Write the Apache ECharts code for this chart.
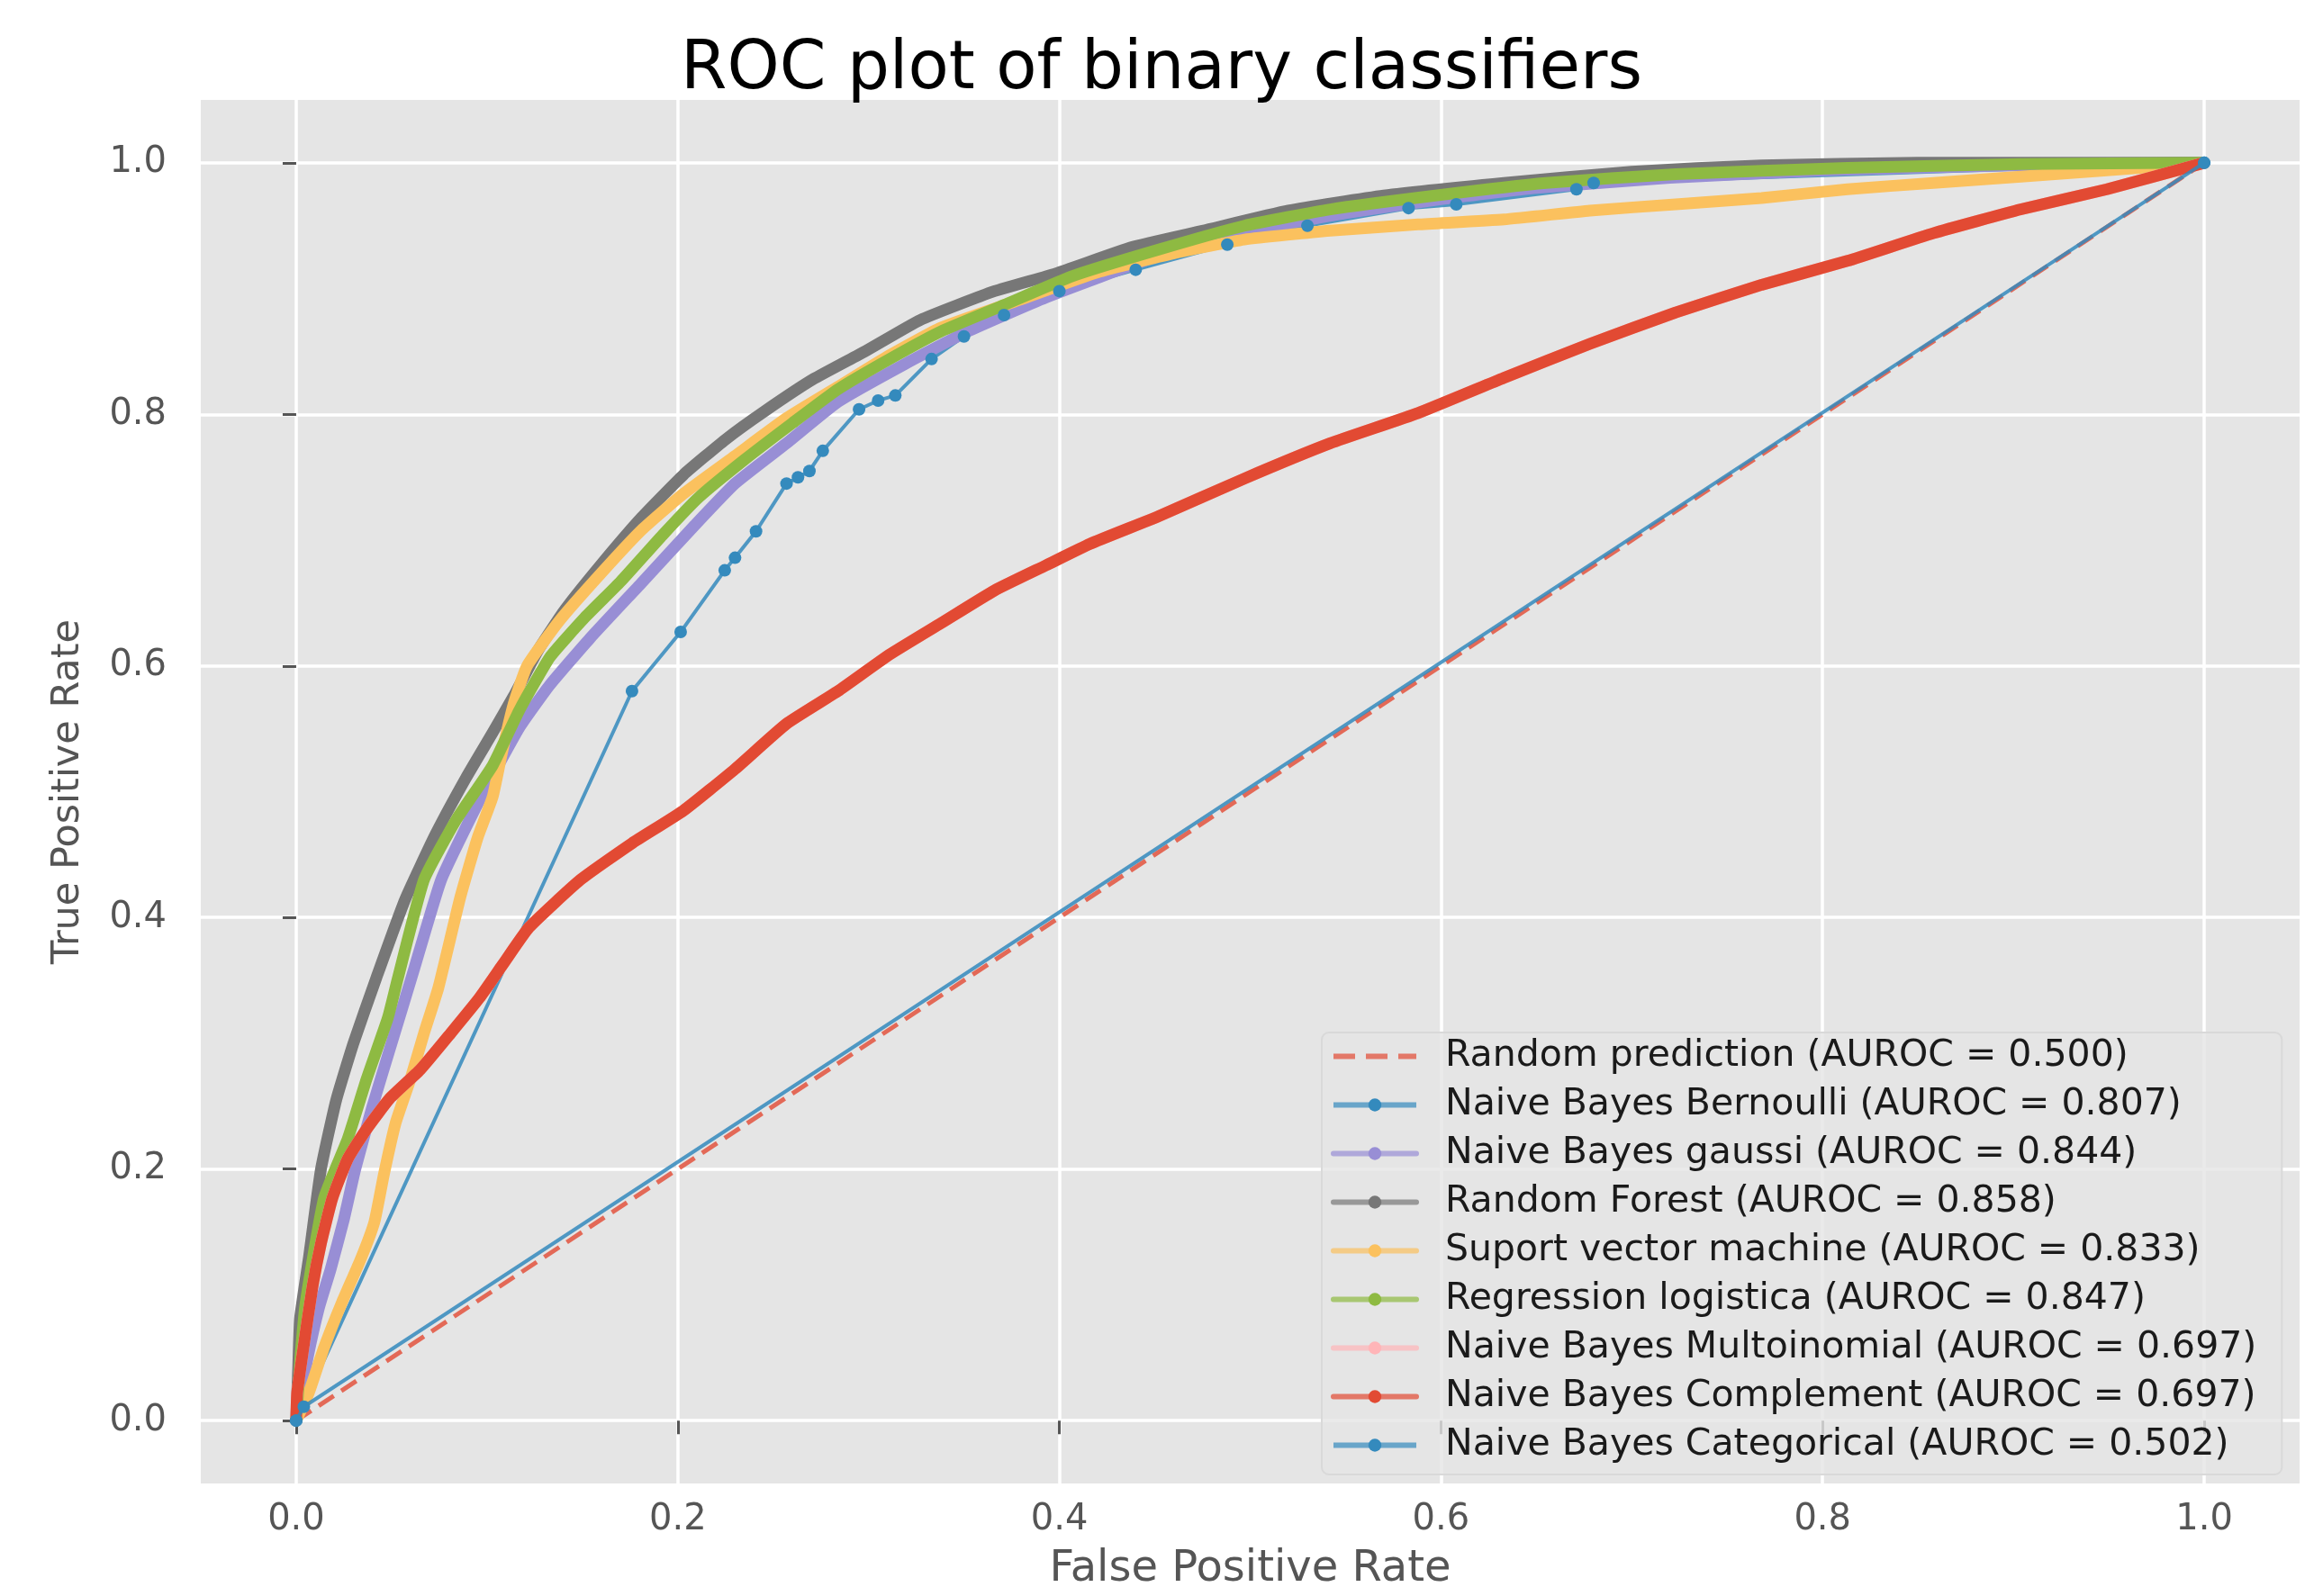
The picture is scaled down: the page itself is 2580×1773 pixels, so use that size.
<!DOCTYPE html>
<html>
<head>
<meta charset="utf-8">
<title>ROC plot of binary classifiers</title>
<script src="https://cdn.jsdelivr.net/npm/echarts@6.0.0/dist/echarts.min.js"></script>
<style>
  html, body { margin: 0; padding: 0; background: #fff; }
  #chart { width: 2580px; height: 1773px; }
</style>
</head>
<body>
<div id="chart"></div>
<script>
// ticks on both axes
const tickValues = [0, 0.2, 0.4, 0.6, 0.8, 1.0]

// legend labels
const modelNames = [
  'Random prediction',
  'Naive Bayes Bernoulli',
  'Naive Bayes gaussi',
  'Random Forest',
  'Suport vector machine',
  'Regression logistica',
  'Naive Bayes Multoinomial',
  'Naive Bayes Complement',
  'Naive Bayes Categorical'
]
const aurocValues = [0.500, 0.807, 0.844, 0.858, 0.833, 0.847, 0.697, 0.697, 0.502]

// ROC points, [false positive rate, true positive rate]
const randomPrediction = [[0, 0], [1, 1]]

const nbBernoulli = [
  [0, 0], [0.176, 0.580], [0.2015, 0.627], [0.2246, 0.676], [0.230, 0.686], [0.241, 0.707],
  [0.257, 0.745], [0.263, 0.750], [0.269, 0.755], [0.276, 0.771], [0.295, 0.804], [0.305, 0.811],
  [0.314, 0.815], [0.333, 0.844], [0.350, 0.862], [0.371, 0.879], [0.400, 0.898], [0.440, 0.915],
  [0.488, 0.935], [0.530, 0.950], [0.583, 0.964], [0.608, 0.967], [0.671, 0.979], [0.680, 0.984],
  [1, 1]
]

const nbGaussian = [
  [0, 0], [0.006, 0.05], [0.012, 0.09], [0.018, 0.12], [0.025, 0.16], [0.031, 0.20], [0.040, 0.25],
  [0.050, 0.30], [0.062, 0.36], [0.076, 0.43], [0.095, 0.49], [0.117, 0.551], [0.133, 0.585],
  [0.154, 0.622], [0.181, 0.666], [0.209, 0.712], [0.230, 0.745], [0.257, 0.777], [0.284, 0.810],
  [0.319, 0.840], [0.352, 0.866], [0.393, 0.893], [0.450, 0.925], [0.500, 0.946], [0.550, 0.960],
  [0.600, 0.971], [0.650, 0.980], [0.720, 0.988], [0.800, 0.994], [0.900, 0.998], [1, 1]
]

const randomForest = [
  [0, 0], [0.001, 0.04], [0.002, 0.081], [0.0066, 0.129], [0.013, 0.20], [0.021, 0.255], [0.030, 0.300],
  [0.042, 0.352], [0.057, 0.414], [0.073, 0.466], [0.089, 0.511], [0.103, 0.547], [0.114, 0.576],
  [0.127, 0.613], [0.141, 0.645], [0.160, 0.681], [0.181, 0.718], [0.203, 0.752], [0.225, 0.780],
  [0.246, 0.803], [0.271, 0.828], [0.298, 0.850], [0.327, 0.875], [0.366, 0.898], [0.398, 0.912],
  [0.438, 0.933], [0.475, 0.946], [0.520, 0.962], [0.570, 0.974], [0.633, 0.984], [0.700, 0.993],
  [0.768, 0.998], [0.850, 1.0], [1, 1]
]

const svm = [
  [0, 0], [0.0066, 0.022], [0.0146, 0.058], [0.024, 0.094], [0.034, 0.129], [0.041, 0.158],
  [0.046, 0.196], [0.052, 0.236], [0.060, 0.272], [0.067, 0.308], [0.0745, 0.344], [0.086, 0.416],
  [0.095, 0.463], [0.103, 0.496], [0.108, 0.532], [0.114, 0.570], [0.121, 0.600], [0.138, 0.636],
  [0.160, 0.674], [0.181, 0.708], [0.203, 0.737], [0.230, 0.767], [0.257, 0.797], [0.284, 0.822],
  [0.311, 0.847], [0.338, 0.869], [0.379, 0.891], [0.420, 0.913], [0.460, 0.928], [0.497, 0.939],
  [0.542, 0.946], [0.588, 0.951], [0.633, 0.955], [0.678, 0.962], [0.723, 0.967], [0.768, 0.972],
  [0.813, 0.979], [0.858, 0.984], [0.904, 0.989], [0.949, 0.994], [1, 1]
]

const logisticRegression = [
  [0, 0], [0.0005, 0.01], [0.002, 0.046], [0.005, 0.094], [0.0146, 0.177], [0.027, 0.224],
  [0.037, 0.272], [0.048, 0.32], [0.053, 0.35], [0.067, 0.43], [0.084, 0.478], [0.103, 0.521],
  [0.117, 0.565], [0.133, 0.607], [0.151, 0.638], [0.170, 0.667], [0.192, 0.704], [0.211, 0.734],
  [0.235, 0.764], [0.260, 0.793], [0.284, 0.820], [0.311, 0.844], [0.338, 0.866], [0.371, 0.887],
  [0.407, 0.910], [0.452, 0.931], [0.497, 0.950], [0.542, 0.963], [0.597, 0.974], [0.655, 0.984],
  [0.723, 0.991], [0.813, 0.996], [0.904, 0.999], [1, 1]
]

// multinomial and complement give the same curve
const nbComplement = [
  [0, 0], [0.0005, 0.022], [0.0038, 0.058], [0.0085, 0.106], [0.013, 0.141], [0.019, 0.177],
  [0.027, 0.208], [0.037, 0.232], [0.049, 0.256], [0.065, 0.279], [0.081, 0.308], [0.096, 0.336],
  [0.108, 0.362], [0.122, 0.392], [0.149, 0.430], [0.176, 0.459], [0.203, 0.485], [0.230, 0.518],
  [0.257, 0.554], [0.284, 0.580], [0.311, 0.609], [0.338, 0.634], [0.366, 0.660], [0.393, 0.680],
  [0.416, 0.697], [0.452, 0.719], [0.497, 0.749], [0.542, 0.777], [0.588, 0.801], [0.633, 0.829],
  [0.678, 0.856], [0.723, 0.881], [0.768, 0.903], [0.813, 0.922], [0.858, 0.944], [0.904, 0.963],
  [0.949, 0.979], [1, 1]
]
const nbMultinomial = nbComplement

const nbCategorical = [[0, 0], [0.004, 0.011], [1, 1]]

const curveData = [
  randomPrediction, nbBernoulli, nbGaussian, randomForest, svm,
  logisticRegression, nbMultinomial, nbComplement, nbCategorical
]

// ggplot colour cycle
const colors = ['#E24A33', '#348ABD', '#988ED5', '#777777', '#FBC15E', '#8EBA42', '#FFB5B8', '#E24A33', '#348ABD']

const labels = modelNames.map((n, i) => n + ' (AUROC = ' + aurocValues[i].toFixed(3) + ')')

const series = curveData.map((d, i) => {
  const s = {
    name: labels[i],
    type: 'line',
    data: d,
    color: colors[i],
    symbol: 'circle',
    animation: false
  }
  if (i === 0) {
    // dashed diagonal
    s.symbol = 'none'
    s.lineStyle = { width: 5, type: 'dashed', opacity: 0.8 }
  } else if (i === 1 || i === 8) {
    // few thresholds -> thin line with dots
    s.showSymbol = true
    s.symbolSize = 14
    s.lineStyle = { width: 4, opacity: 0.85 }
  } else {
    // dense markers look like a thick band
    s.showSymbol = false
    s.smooth = 0.15
    s.lineStyle = { width: 13, cap: 'round', join: 'round' }
  }
  return s
})

// legend entries, the dashed one has no dot
const legendData = labels.map((l, i) => (i === 0 ? { name: l, itemStyle: { opacity: 0 } } : { name: l }))

const font = 'DejaVu Sans'
const chart = echarts.init(document.getElementById('chart'))
chart.setOption({
  backgroundColor: '#FFFFFF',
  animation: false,
  title: {
    text: 'ROC plot of binary classifiers',
    left: 'center',
    top: 37,
    textStyle: { fontFamily: font, fontSize: 74, fontWeight: 'normal', color: '#000' }
  },
  grid: {
    left: 223,
    right: 26,
    top: 111,
    bottom: 122,
    show: true,
    backgroundColor: '#E5E5E5',
    borderWidth: 0
  },
  xAxis: {
    type: 'value',
    min: -0.05,
    max: 1.05,
    name: 'False Positive Rate',
    nameLocation: 'middle',
    nameGap: 72,
    nameTextStyle: { fontFamily: font, fontSize: 48, color: '#555555' },
    axisLine: { show: false },
    axisTick: { show: true, customValues: tickValues, length: 15, lineStyle: { color: '#555555', width: 3 } },
    axisLabel: {
      customValues: tickValues,
      margin: 21,
      fontFamily: font,
      fontSize: 40,
      color: '#555555',
      formatter: v => v.toFixed(1)
    },
    splitLine: { show: true, lineStyle: { color: '#FFFFFF', width: 3.5 } }
  },
  yAxis: {
    type: 'value',
    min: -0.05,
    max: 1.05,
    name: 'True Positive Rate',
    nameLocation: 'middle',
    nameGap: 126,
    nameTextStyle: { fontFamily: font, fontSize: 43, color: '#555555' },
    axisLine: { show: false },
    axisTick: { show: true, customValues: tickValues, length: 15, lineStyle: { color: '#555555', width: 3 } },
    axisLabel: {
      customValues: tickValues,
      margin: 38,
      fontFamily: font,
      fontSize: 40,
      color: '#555555',
      formatter: v => v.toFixed(1)
    },
    splitLine: { show: true, lineStyle: { color: '#FFFFFF', width: 3.5 } }
  },
  legend: {
    orient: 'vertical',
    left: 1468,
    top: 1147,
    padding: [6, 28, 12, 10],
    itemWidth: 92,
    itemHeight: 18,
    itemGap: 13,
    backgroundColor: 'rgba(229,229,229,0.8)',
    borderColor: '#D9D9D9',
    borderWidth: 2,
    borderRadius: 8,
    lineStyle: { width: 6, opacity: 0.7 },
    textStyle: { fontFamily: font, fontSize: 41, lineHeight: 40, color: '#1A1A1A', padding: [0, 0, 0, 27] },
    data: legendData
  },
  series: series
})
</script>
</body>
</html>
